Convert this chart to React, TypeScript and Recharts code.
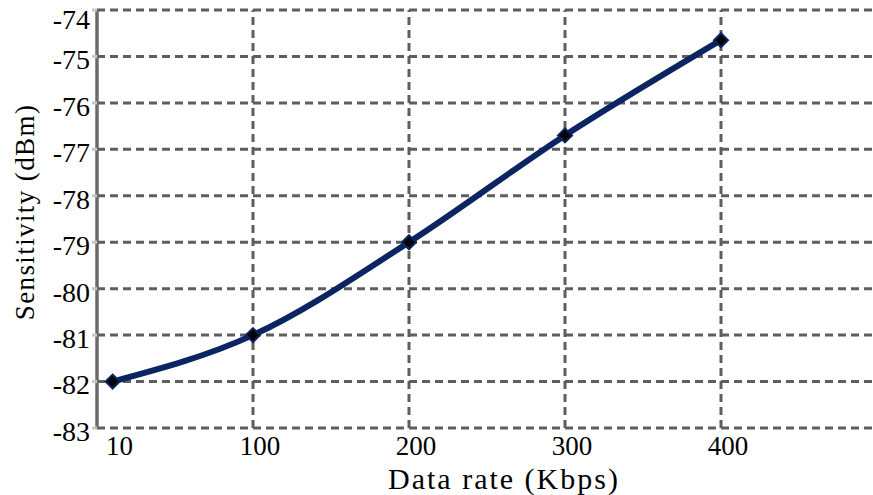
import { LineChart, Line, XAxis, YAxis, CartesianGrid, Label, ReferenceLine } from 'recharts';

const rates = [10, 100, 200, 300, 400];
const sensitivity = [-82, -81, -79, -76.7, -74.65];
const xTicks = [10, 100, 200, 300, 400];
const gridRates = [100, 200, 300, 400];
const yTicks = [-83, -82, -81, -80, -79, -78, -77, -76, -75, -74];

const data = rates.map((r, i) => ({ rate: r, value: sensitivity[i] }));

const FONT = "'Liberation Serif'";
const NAVY = '#0b2462';
const GRID = '#5e5e5e';

function Diamond(props: any) {
  const { cx, cy } = props;
  if (cx == null || cy == null) return null;
  const r = 7;
  return (
    <polygon
      points={`${cx},${cy - r} ${cx + r},${cy} ${cx},${cy + r} ${cx - r},${cy}`}
      fill="#000"
      stroke={NAVY}
      strokeWidth={2}
    />
  );
}

export default function App() {
  return (
    <div style={{ position: 'absolute', left: 0, top: 0, width: 873, height: 495, overflow: 'hidden', background: '#fff', fontFamily: FONT }}>
      <LineChart width={877} height={495} data={data} margin={{ top: 10, right: 0, left: 0, bottom: 0 }} style={{ fontFamily: FONT }}>
        <CartesianGrid strokeDasharray="8 5" stroke={GRID} strokeWidth={3} vertical={false} />
        {gridRates.map(v => (
          <ReferenceLine key={v} x={v} stroke={GRID} strokeWidth={3} strokeDasharray="8 5" />
        ))}
        <XAxis
          type="number"
          dataKey="rate"
          domain={[0, 500]}
          ticks={xTicks}
          axisLine={false}
          tickLine={false}
          tickSize={0}
          tickMargin={8}
          height={67}
          dx={7}
          tick={{ fontSize: 27, fill: '#000', fontFamily: FONT }}
        >
          <Label
            content={({ viewBox }: any) => (
              <text
                x={viewBox.x + viewBox.width / 2 + 17}
                y={489}
                textAnchor="middle"
                fontSize={30}
                letterSpacing={2}
                fontFamily={FONT}
                fill="#000"
              >
                Data rate (Kbps)
              </text>
            )}
          />
        </XAxis>
        <YAxis
          domain={[-83, -74]}
          ticks={yTicks}
          width={97}
          tickSize={5}
          tickMargin={2}
          dy={3}
          axisLine={{ stroke: '#6b6b6b', strokeWidth: 3.5 }}
          tickLine={{ stroke: '#c8c8c8', strokeWidth: 3 }}
          tick={{ fontSize: 28, fill: '#000', fontFamily: FONT }}
        >
          <Label
            content={({ viewBox }: any) => {
              const cx = 25;
              const cy = viewBox.y + viewBox.height / 2 - 7;
              return (
                <text
                  x={cx}
                  y={cy}
                  transform={`rotate(-90, ${cx}, ${cy})`}
                  textAnchor="middle"
                  dominantBaseline="central"
                  fontSize={27}
                  letterSpacing={1.4}
                  fontFamily={FONT}
                  fill="#000"
                >
                  Sensitivity (dBm)
                </text>
              );
            }}
          />
        </YAxis>
        <Line
          type="monotone"
          dataKey="value"
          stroke={NAVY}
          strokeWidth={6}
          dot={<Diamond />}
          activeDot={false}
          isAnimationActive={false}
        />
      </LineChart>
    </div>
  );
}
